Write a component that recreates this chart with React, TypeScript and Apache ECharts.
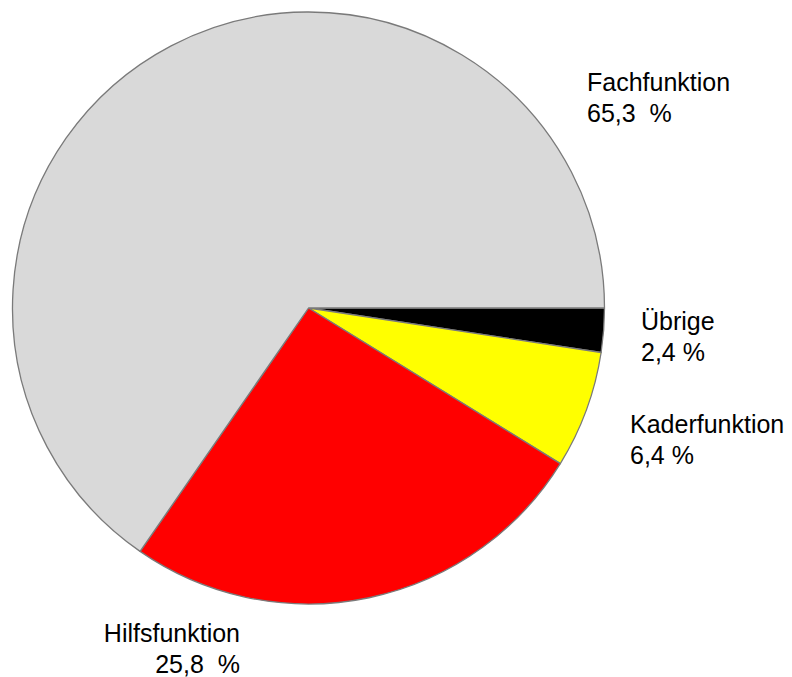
import React, { useEffect, useRef } from "react";
import * as echarts from "echarts";

const categories = ["Übrige", "Kaderfunktion", "Hilfsfunktion", "Fachfunktion"];
const values = [2.4, 6.4, 25.8, 65.3];
const colors = ["#000000", "#ffff00", "#ff0000", "#d9d9d9"];

// label anchor positions (x, y middle), alignment, gap before "%"
const labelPos = [
  { x: 641, y: 336, align: "left", gap: " " },
  { x: 630, y: 439, align: "left", gap: " " },
  { x: 240, y: 648, align: "right", gap: "  " },
  { x: 587, y: 97, align: "left", gap: "  " },
];

export default function App() {
  const ref = useRef<HTMLDivElement>(null);
  useEffect(() => {
    if (!ref.current) return;
    const chart = echarts.init(ref.current, undefined, { renderer: "svg" });
    chart.setOption({
      animation: false,
      backgroundColor: "#ffffff",
      series: [
        {
          type: "pie",
          center: [308.5, 308],
          radius: 296,
          startAngle: 0,
          clockwise: true,
          avoidLabelOverlap: false,
          itemStyle: { borderColor: "#7a7a7a", borderWidth: 1.3 },
          label: {
            show: true,
            position: "outside",
            fontFamily: "Liberation Sans, Arial, sans-serif",
            fontSize: 25,
            lineHeight: 31,
            color: "#000000",
            formatter: (p: any) =>
              p.name +
              "\n" +
              values[p.dataIndex].toFixed(1).replace(".", ",") +
              labelPos[p.dataIndex].gap +
              "%",
          },
          labelLine: { show: false },
          labelLayout: (params: any) => {
            const lp = labelPos[params.dataIndex];
            return { x: lp.x, y: lp.y, align: lp.align, verticalAlign: "middle" };
          },
          emphasis: { disabled: true },
          data: categories.map((c, i) => ({
            name: c,
            value: values[i],
            itemStyle: { color: colors[i] },
            label: { align: labelPos[i].align },
          })),
        },
      ],
    });
    return () => chart.dispose();
  }, []);
  return <div ref={ref} style={{ width: 792, height: 677, position: "absolute", left: 0, top: 0 }} />;
}
